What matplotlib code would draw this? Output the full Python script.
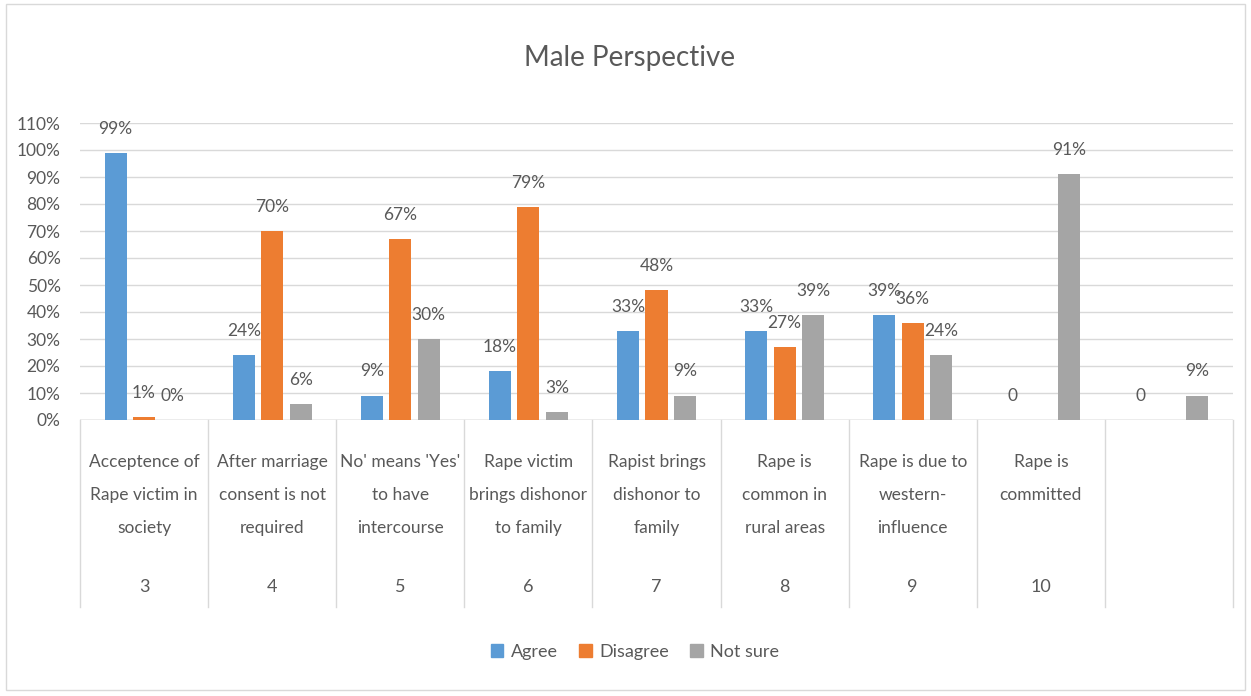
import numpy as np
import matplotlib.pyplot as plt
from matplotlib.patches import Rectangle

# survey responses (fraction of male respondents)
questions = [
    "Acceptence of\nRape victim in\nsociety",
    "After marriage\nconsent is not\nrequired",
    "No' means 'Yes'\nto have\nintercourse",
    "Rape victim\nbrings dishonor\nto family",
    "Rapist brings\ndishonor to\nfamily",
    "Rape is\ncommon in\nrural areas",
    "Rape is due to\nwestern-\ninfluence",
    "Rape is\ncommitted\n",
    "",
]
question_no = ["3", "4", "5", "6", "7", "8", "9", "10", ""]
agree = [0.99, 0.24, 0.09, 0.18, 0.33, 0.33, 0.39, 0.0, 0.0]
disagree = [0.01, 0.70, 0.67, 0.79, 0.48, 0.27, 0.36, None, None]
not_sure = [0.0, 0.06, 0.30, 0.03, 0.09, 0.39, 0.24, 0.91, 0.09]
# agree entries for the last two questions are shown as raw "0"
agree_labels = ["99%", "24%", "9%", "18%", "33%", "33%", "39%", "0", "0"]

series = [
    ("Agree", agree, "#5B9BD5"),
    ("Disagree", disagree, "#ED7D31"),
    ("Not sure", not_sure, "#A5A5A5"),
]

TEXT = "#595959"
GRID = "#D9D9D9"
plt.rcParams["font.family"] = ["Lato", "DejaVu Sans"]

W, H = 1251, 696
fig = plt.figure(figsize=(W / 100, H / 100), dpi=100)
fig.patch.set_facecolor("white")
fig.patches.append(Rectangle((6 / W, 6 / H), 1 - 12 / W, 1 - 10 / H,
                             transform=fig.transFigure, fill=False,
                             edgecolor="#D9D9D9", linewidth=1.0))

left, right, top, base = 80, 1233, 123, 420
ax = fig.add_axes([left / W, 1 - base / H, (right - left) / W, (base - top) / H])

n = len(questions)
x = np.arange(n)
bw = 0.172
step = 0.222

for i, (name, vals, color) in enumerate(series):
    xs = x + (i - 1) * step
    for j, v in enumerate(vals):
        if v is None:
            continue
        ax.bar(xs[j], v, width=bw, color=color, label=name if j == 0 else None,
               zorder=3)
        if name == "Agree":
            txt = agree_labels[j]
        else:
            txt = f"{round(v * 100):.0f}%"
        ax.text(xs[j], v + 0.06, txt, ha="center", va="bottom",
                fontsize=12.5, color=TEXT, clip_on=False, zorder=4)

ax.set_xlim(-0.5, n - 0.5)
ax.set_ylim(0, 1.1)
ax.set_yticks(np.arange(0, 1.11, 0.1))
ax.set_yticklabels([f"{int(round(t * 100))}%" for t in np.arange(0, 1.11, 0.1)],
                   fontsize=12.5, color=TEXT)
ax.tick_params(axis="y", length=0, pad=14)
ax.set_xticks([])
ax.grid(axis="y", color=GRID, linewidth=1.0, zorder=0)
for s in ["top", "right", "left", "bottom"]:
    ax.spines[s].set_visible(False)
ax.axhline(0, color="#BFBFBF", linewidth=1.0, zorder=2)

# two-level category axis
xt = ax.get_xaxis_transform()
ph = base - top
sep_bottom = -(607 - base) / ph
for k in range(n + 1):
    ax.plot([k - 0.5, k - 0.5], [0, sep_bottom], color="#D9D9D9",
            linewidth=1.0, transform=xt, clip_on=False)
for j in range(n):
    ax.text(x[j], -(495 - base) / ph, questions[j], transform=xt,
            ha="center", va="center", fontsize=12.5, color=TEXT,
            linespacing=2.3)
    ax.text(x[j], -(587 - base) / ph, question_no[j], transform=xt,
            ha="center", va="center", fontsize=13, color=TEXT)

fig.text(630 / W, 1 - 58 / H, "Male Perspective", ha="center", va="center",
         fontsize=20, color=TEXT)

handles = [Rectangle((0, 0), 1, 1, color=c) for _, _, c in series]
fig.legend(handles, [s[0] for s in series], loc="center",
           bbox_to_anchor=(635 / W, 1 - 652 / H), ncol=3, frameon=False,
           fontsize=13, labelcolor=TEXT, handlelength=0.7, handleheight=0.7,
           handletextpad=0.4, columnspacing=1.2)

fig.savefig("out.png", dpi=100)
